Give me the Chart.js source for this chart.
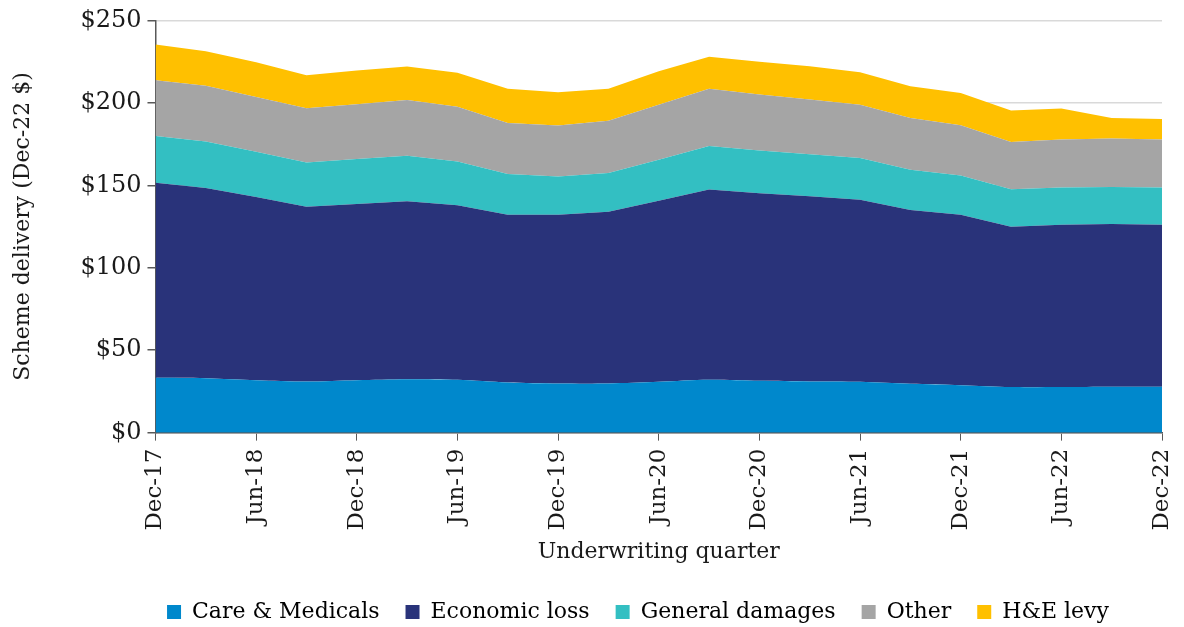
<!DOCTYPE html>
<html>
<head>
<meta charset="utf-8">
<script src="https://cdn.jsdelivr.net/npm/chart.js@4"></script>
<style>
  html, body { margin: 0; padding: 0; background: #fff; }
  #wrap { width: 1184px; height: 627px; }
</style>
</head>
<body>
<div id="wrap"><canvas id="chart"></canvas></div>
<script>
const quarters = ["Dec-17", "Mar-18", "Jun-18", "Sep-18", "Dec-18", "Mar-19", "Jun-19", "Sep-19",
  "Dec-19", "Mar-20", "Jun-20", "Sep-20", "Dec-20", "Mar-21", "Jun-21", "Sep-21",
  "Dec-21", "Mar-22", "Jun-22", "Sep-22", "Dec-22"];

const careMedicals = [33.3, 33.0, 31.8, 31.0, 31.8, 32.4, 32.0, 30.4, 29.8, 29.8, 30.8,
  32.0, 31.4, 31.0, 30.8, 29.6, 28.8, 27.6, 27.6, 27.8, 27.8];
const economicLoss = [118.2, 115.4, 111.1, 106.0, 106.9, 107.9, 105.9, 101.8, 102.4, 104.2, 109.9,
  115.4, 113.8, 112.4, 110.5, 105.4, 103.3, 97.3, 98.5, 98.7, 98.3];
const generalDamages = [28.4, 28.2, 27.4, 26.8, 27.2, 27.6, 26.5, 24.6, 23.2, 23.4, 24.8,
  26.4, 25.9, 25.5, 25.2, 24.4, 23.8, 22.7, 22.5, 22.5, 22.5];
const other = [33.8, 33.7, 33.2, 32.9, 33.3, 33.9, 33.3, 31.0, 30.9, 31.8, 33.4,
  34.7, 33.9, 33.1, 32.4, 31.4, 30.5, 28.6, 29.2, 29.4, 29.2];
const heLevy = [21.7, 21.0, 21.1, 20.0, 20.4, 20.2, 20.5, 20.7, 20.1, 19.4, 20.3,
  19.4, 19.9, 20.2, 19.7, 19.2, 19.6, 19.1, 18.7, 12.4, 12.4];

const yTicks = [0, 50, 100, 150, 200, 250];

const FONT = "'DejaVu Serif', serif";
const TEXT = "#1a1a1a";

const series = [
  { label: "Care & Medicals", data: careMedicals, color: "#0088CC", tension: 0.3 },
  { label: "Economic loss", data: economicLoss, color: "#29337A", tension: 0 },
  { label: "General damages", data: generalDamages, color: "#33BFC2", tension: 0 },
  { label: "Other", data: other, color: "#A5A5A5", tension: 0 },
  { label: "H&E levy", data: heLevy, color: "#FFC000", tension: 0 },
];

// nudge the legend right and down, as in the original
const legendShift = {
  id: "legendShift",
  afterLayout(chart) {
    const lg = chart.legend;
    if (lg) {
      lg.left += 52;
      lg.right += 52;
      lg.top += 6;
      lg.bottom += 6;
    }
  },
};

new Chart(document.getElementById("chart").getContext("2d"), {
  type: "line",
  data: {
    labels: quarters,
    datasets: series.map((s, i) => ({
      label: s.label,
      data: s.data,
      backgroundColor: s.color,
      borderColor: s.color,
      borderWidth: 0,
      pointRadius: 0,
      tension: s.tension,
      fill: i === 0 ? "origin" : "-1",
    })),
  },
  plugins: [legendShift],
  options: {
    responsive: true,
    maintainAspectRatio: false,
    animation: false,
    layout: { padding: { left: 10, right: 22, top: 10, bottom: 0 } },
    plugins: {
      tooltip: { enabled: false },
      legend: {
        position: "bottom",
        labels: {
          font: { family: FONT, size: 22 },
          color: TEXT,
          boxWidth: 14,
          boxHeight: 14,
          padding: 26,
          generateLabels: (chart) =>
            chart.data.datasets.map((d, i) => ({
              text: d.label,
              fillStyle: d.backgroundColor,
              strokeStyle: d.backgroundColor,
              lineWidth: 0,
              datasetIndex: i,
            })),
        },
      },
    },
    scales: {
      x: {
        offset: false,
        afterFit: (scale) => {
          scale.paddingRight = 0;
        },
        grid: {
          drawOnChartArea: false,
          drawTicks: true,
          tickLength: 8,
          tickColor: (ctx) => (ctx.index % 2 === 0 ? "#595959" : "rgba(0,0,0,0)"),
        },
        border: { color: "#595959", width: 1.5 },
        ticks: {
          autoSkip: false,
          maxRotation: 90,
          minRotation: 90,
          padding: 8,
          font: { family: FONT, size: 23 },
          color: TEXT,
          callback: function (value, index) {
            return index % 2 === 0 ? this.getLabelForValue(value) : "";
          },
        },
        title: {
          display: true,
          text: "Underwriting quarter",
          font: { family: FONT, size: 22 },
          color: TEXT,
          padding: { top: 0, bottom: 4 },
        },
      },
      y: {
        stacked: true,
        min: 0,
        max: 250,
        afterBuildTicks: (axis) => {
          axis.ticks = yTicks.map((v) => ({ value: v }));
        },
        grid: {
          color: "#d9d9d9",
          lineWidth: 1.5,
          drawTicks: true,
          tickLength: 8,
          tickColor: "#595959",
        },
        border: { color: "#595959", width: 1.5 },
        ticks: {
          padding: 6,
          font: { family: FONT, size: 24 },
          color: TEXT,
          callback: (v) => "$" + v,
        },
        title: {
          display: true,
          text: "Scheme delivery (Dec-22 $)",
          font: { family: FONT, size: 22 },
          color: TEXT,
          padding: { top: 0, bottom: 38 },
        },
      },
    },
  },
});
</script>
</body>
</html>
